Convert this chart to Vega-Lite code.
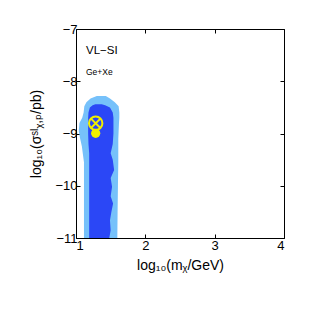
{
  "$schema": "https://vega.github.io/schema/vega-lite/v6.json",
  "width": 208,
  "height": 209,
  "autosize": "none",
  "padding": {"left": 76, "top": 29, "right": 29, "bottom": 75},
  "background": "white",
  "config": {
    "view": {"stroke": null},
    "font": "Liberation Sans",
    "axis": {
      "domainColor": "black", "domainWidth": 1, "tickColor": "black", "tickWidth": 1,
      "tickSize": -4, "grid": false, "labelFont": "Liberation Sans", "labelFontSize": 13,
      "labelColor": "black", "titleFont": "Liberation Sans, DejaVu Sans", "titleFontSize": 14,
      "titleFontWeight": "normal", "titleColor": "black", "format": "d"
    }
  },
  "datasets": {
    "light": [
      {"y": -8.28, "xl": 1.30, "xr": 1.43},
      {"y": -8.33, "xl": 1.21, "xr": 1.49},
      {"y": -8.40, "xl": 1.15, "xr": 1.56},
      {"y": -8.48, "xl": 1.12, "xr": 1.615},
      {"y": -8.60, "xl": 1.11, "xr": 1.625},
      {"y": -8.70, "xl": 1.09, "xr": 1.625},
      {"y": -8.80, "xl": 1.05, "xr": 1.62},
      {"y": -8.95, "xl": 1.04, "xr": 1.615},
      {"y": -9.10, "xl": 1.06, "xr": 1.61},
      {"y": -9.25, "xl": 1.085, "xr": 1.61},
      {"y": -9.40, "xl": 1.10, "xr": 1.61},
      {"y": -9.55, "xl": 1.115, "xr": 1.61},
      {"y": -10.0, "xl": 1.115, "xr": 1.605},
      {"y": -10.5, "xl": 1.115, "xr": 1.60},
      {"y": -11.0, "xl": 1.115, "xr": 1.596}
    ],
    "dark": [
      {"y": -8.44, "xl": 1.28, "xr": 1.37},
      {"y": -8.46, "xl": 1.24, "xr": 1.42},
      {"y": -8.50, "xl": 1.20, "xr": 1.49},
      {"y": -8.60, "xl": 1.18, "xr": 1.53},
      {"y": -8.70, "xl": 1.175, "xr": 1.54},
      {"y": -9.00, "xl": 1.175, "xr": 1.54},
      {"y": -9.20, "xl": 1.18, "xr": 1.53},
      {"y": -9.38, "xl": 1.19, "xr": 1.50},
      {"y": -9.50, "xl": 1.19, "xr": 1.53},
      {"y": -9.70, "xl": 1.19, "xr": 1.55},
      {"y": -9.85, "xl": 1.19, "xr": 1.50},
      {"y": -10.02, "xl": 1.19, "xr": 1.52},
      {"y": -10.20, "xl": 1.19, "xr": 1.50},
      {"y": -10.34, "xl": 1.19, "xr": 1.535},
      {"y": -10.50, "xl": 1.19, "xr": 1.51},
      {"y": -10.66, "xl": 1.19, "xr": 1.49},
      {"y": -10.85, "xl": 1.19, "xr": 1.50},
      {"y": -11.0, "xl": 1.19, "xr": 1.48}
    ],
    "best": [{"x": 1.284, "y": -8.805}],
    "dot": [{"x": 1.284, "y": -8.996}],
    "labels": [
      {"x": 1.144, "y": -7.415, "text": "VL−SI", "size": 11.5},
      {"x": 1.144, "y": -7.817, "text": "Ge+Xe", "size": 8.5}
    ]
  },
  "resolve": {"axis": {"x": "independent", "y": "independent"}},
  "layer": [
    {
      "layer": [
        {
          "data": {"name": "light"},
          "mark": {"type": "area", "orient": "horizontal", "color": "#76c1fa", "clip": true},
          "encoding": {
            "y": {"field": "y", "type": "quantitative", "scale": {"domain": [-11, -7], "nice": false, "zero": false},
              "axis": {"values": [-11, -10, -9, -8, -7], "format": "d", "title": "log₁₀(σˢᴵᵪ,ₚ/pb)", "labelPadding": 3, "titlePadding": 11, "orient": "left"}},
            "x": {"field": "xl", "type": "quantitative", "scale": {"domain": [1, 4], "nice": false, "zero": false},
              "axis": {"values": [1, 2, 3, 4], "format": "d", "title": "log₁₀(mᵪ/GeV)", "labelPadding": 5, "titlePadding": 6, "orient": "bottom"}},
            "x2": {"field": "xr"}
          }
        },
        {
          "data": {"name": "dark"},
          "mark": {"type": "area", "orient": "horizontal", "color": "#2b47f6", "clip": true},
          "encoding": {
            "y": {"field": "y", "type": "quantitative"},
            "x": {"field": "xl", "type": "quantitative"},
            "x2": {"field": "xr"}
          }
        },
        {
          "data": {"name": "dot"},
          "mark": {"type": "point", "shape": "circle", "filled": true, "color": "#f0f000", "size": 85, "opacity": 1},
          "encoding": {"x": {"field": "x", "type": "quantitative"}, "y": {"field": "y", "type": "quantitative"}}
        },
        {
          "data": {"name": "best"},
          "mark": {"type": "point", "shape": "circle", "filled": false, "stroke": "#f0f000", "strokeWidth": 2, "size": 180, "opacity": 1},
          "encoding": {"x": {"field": "x", "type": "quantitative"}, "y": {"field": "y", "type": "quantitative"}}
        },
        {
          "data": {"name": "best"},
          "mark": {"type": "point", "shape": "M-0.7,-0.7L0.7,0.7M-0.7,0.7L0.7,-0.7", "filled": false, "stroke": "#f0f000", "strokeWidth": 2, "size": 180, "opacity": 1},
          "encoding": {"x": {"field": "x", "type": "quantitative"}, "y": {"field": "y", "type": "quantitative"}}
        },
        {
          "data": {"name": "labels"},
          "mark": {"type": "text", "align": "left", "baseline": "middle", "font": "Liberation Sans", "color": "black"},
          "encoding": {
            "x": {"field": "x", "type": "quantitative"},
            "y": {"field": "y", "type": "quantitative"},
            "text": {"field": "text"},
            "size": {"field": "size", "type": "quantitative", "scale": null}
          }
        }
      ]
    },
    {
      "data": {"name": "best"},
      "mark": {"type": "point", "opacity": 0},
      "encoding": {
        "x": {"field": "x", "type": "quantitative", "axis": {"orient": "top", "values": [1, 2, 3, 4], "labels": false, "title": null}},
        "y": {"field": "y", "type": "quantitative", "axis": {"orient": "right", "values": [-11, -10, -9, -8, -7], "labels": false, "title": null}}
      }
    }
  ]
}
